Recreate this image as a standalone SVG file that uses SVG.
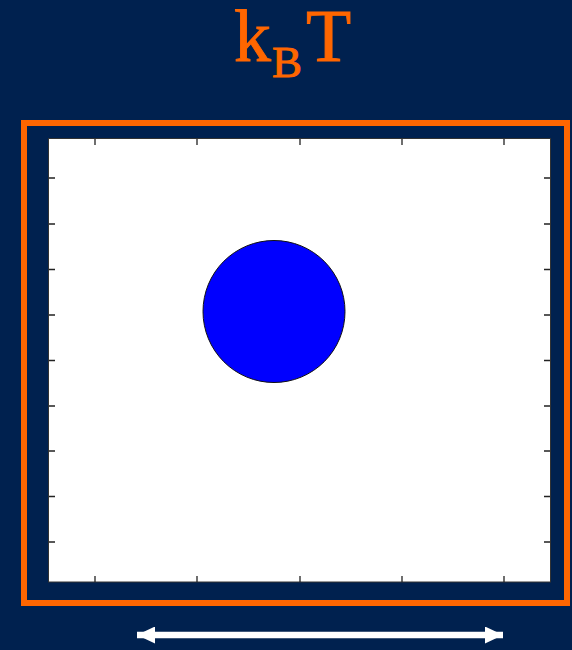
<svg xmlns="http://www.w3.org/2000/svg" width="572" height="650" viewBox="0 0 572 650">
<style>
.title{font-family:"Liberation Serif","Times New Roman",serif;fill:#FF6600;stroke:#FF6600;stroke-width:0.9}
.tick{stroke:#222;stroke-width:1.3}
</style>
<defs>
<marker id="ah" viewBox="0 0 18 17" refX="18" refY="8.5" markerWidth="18" markerHeight="17" markerUnits="userSpaceOnUse" orient="auto-start-reverse">
<path d="M0,0 L18,8.5 L0,17 Z" fill="#FFFFFF"/>
</marker>
</defs>
<rect width="572" height="650" fill="#00214F"/>
<g id="title">
<text class="title" font-size="74"><tspan x="234" y="61">k</tspan><tspan x="272" y="77" font-size="45">B</tspan><tspan x="306" y="61">T</tspan></text>
</g>
<g id="frame">
<rect x="24" y="123" width="543" height="480" fill="none" stroke="#FF6600" stroke-width="6"/>
</g>
<g id="plot">
<rect x="48.5" y="138.5" width="502" height="443.5" fill="#FFFFFF" stroke="#333" stroke-width="1"/>
<path class="tick" d="M95,139v6M197,139v6M300,139v6M402,139v6M504,139v6M95,582v-6M197,582v-6M300,582v-6M402,582v-6M504,582v-6M49,178h6M49,224h6M49,269.5h6M49,315h6M49,360.5h6M49,406h6M49,451h6M49,496.5h6M49,542h6M550,178h-6M550,224h-6M550,269.5h-6M550,315h-6M550,360.5h-6M550,406h-6M550,451h-6M550,496.5h-6M550,542h-6"/>
<circle id="particle" cx="274" cy="311.5" r="71" fill="#0000FF" stroke="#111" stroke-width="1"/>
</g>
<g id="connectors">
<line x1="137" y1="635" x2="503" y2="635" stroke="#FFFFFF" stroke-width="6.5" marker-start="url(#ah)" marker-end="url(#ah)"/>
</g>
</svg>
